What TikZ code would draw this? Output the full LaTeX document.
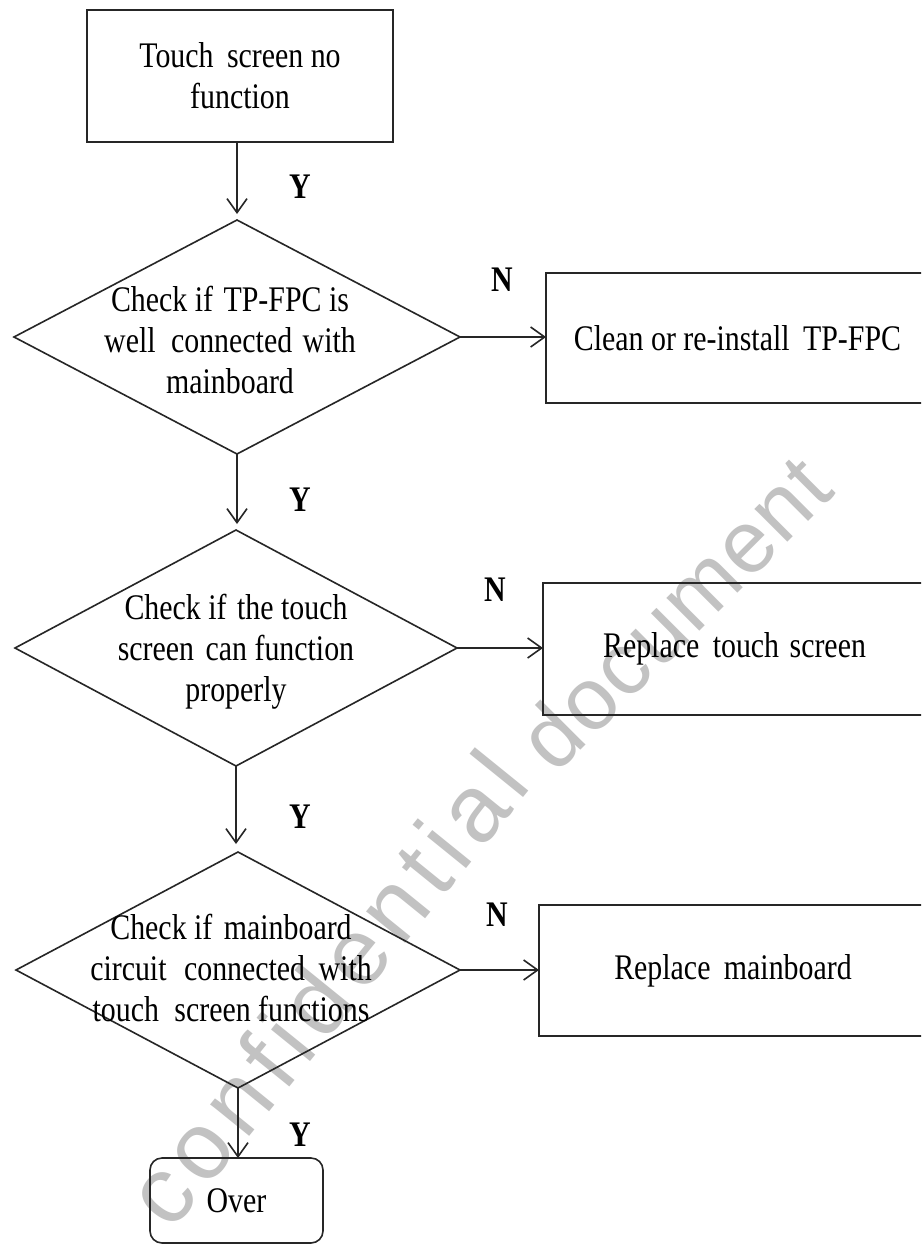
\documentclass[tikz,border=0pt]{standalone}
\usepackage{fontspec}
\setmainfont{Liberation Serif}[FakeStretch=0.83]
\newfontfamily\wmfont{Liberation Sans}[LetterSpace=9]
\newfontfamily\wmfontb{Liberation Sans}[LetterSpace=2]
\usetikzlibrary{shapes.geometric,arrows.meta}
\begin{document}
\begin{tikzpicture}[x=1pt,y=-1pt,
  lineclr/.style={draw=black!85, line width=1.6pt},
  box/.style={lineclr, rectangle, inner sep=0pt, outer sep=0pt, align=center, font=\fontsize{36}{41}\selectfont},
  dia/.style={lineclr, diamond, inner sep=0pt, outer sep=0pt},
  txt/.style={align=center, font=\fontsize{36}{41}\selectfont, inner sep=0pt},
  lab/.style={font=\fontsize{36}{41}\selectfont\bfseries, inner sep=0pt},
  arr/.style={line width=1.6pt, draw=black!85, -{Straight Barb[length=14pt,width=20pt]}},
  wm/.style={text=black!24, inner sep=0pt}
]
\useasboundingbox (0,0) rectangle (921,1247);
\fill[white] (0,0) rectangle (921,1247);
\clip (0,0) rectangle (921,1247);

% watermark
\node[wm, rotate=51, font=\wmfont\fontsize{95}{95}\selectfont] (wm1) at (326,988) {confidential};
\node[wm, rotate=45, font=\wmfontb\fontsize{88}{88}\selectfont] (wm2) at (674,612) {document};

% boxes
\node[box, minimum width=306pt, minimum height=132pt] (b1) at (240,76) {Touch\hspace{6pt} screen no\\function};
\node[box, minimum width=383pt, minimum height=130pt] (c1) at (737.5,338) {Clean or re-install\hspace{6pt} TP-FPC};
\node[box, minimum width=383pt, minimum height=132pt] (c2) at (734.5,649) {Replace\hspace{6pt} touch\hspace{3pt} screen};
\node[box, minimum width=388pt, minimum height=131pt] (c3) at (733,970.5) {Replace\hspace{6pt} mainboard};
\node[box, rounded corners=12pt, minimum width=173pt, minimum height=85pt] (over) at (236.5,1200.5) {Over};

% diamonds
\node[dia, minimum width=446pt, minimum height=234pt] (d1) at (237,337) {};
\node[dia, minimum width=442pt, minimum height=236pt] (d2) at (236,648) {};
\node[dia, minimum width=444pt, minimum height=236pt] (d3) at (238,970) {};

\node[txt] (t1) at (230,340) {Check if\hspace{3pt} TP-FPC is\\well\hspace{8pt} connected\hspace{3pt} with\\mainboard};
\node[txt] (t2) at (236,652) {Check if\hspace{3pt} the touch\\screen\hspace{4pt} can function\\properly};
\node[txt] (t3) at (231,968) {Check if\hspace{4pt} mainboard\\circuit\hspace{10pt} connected\hspace{6pt} with\\touch\hspace{8pt} screen functions};

% connectors
\draw[arr, shorten >=6pt] (d1.north |- b1.south) -- (d1.north);
\draw[arr, shorten >=6pt] (d1.south) -- (d1.south |- d2.north);
\draw[arr, shorten >=8pt] (d2.south) -- (d2.south |- d3.north);
\draw[arr] (d3.south) -- (d3.south |- over.north);
\draw[arr] (d1.east) -- (c1.west |- d1.east);
\draw[arr] (d2.east) -- (c2.west |- d2.east);
\draw[arr] (d3.east) -- (c3.west |- d3.east);

% labels
\node[lab] (y1) at (300,187) {Y};
\node[lab] (y2) at (300,500) {Y};
\node[lab] (y3) at (300,817) {Y};
\node[lab] (y4) at (300,1135) {Y};
\node[lab] (n1) at (502,280) {N};
\node[lab] (n2) at (495,590) {N};
\node[lab] (n3) at (497,915) {N};
\end{tikzpicture}
\end{document}
